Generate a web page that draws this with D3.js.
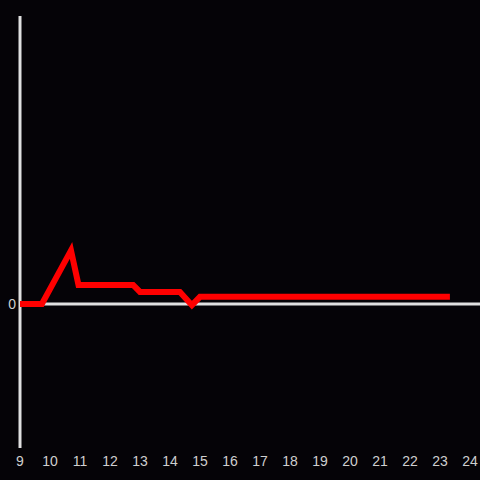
<!DOCTYPE html>
<html><head><meta charset="utf-8">
<script src="https://cdn.jsdelivr.net/npm/d3@7"></script>
<style>html,body{margin:0;padding:0;background:#050307;}svg{display:block;}</style>
</head><body>
<svg id="c" width="480" height="480"></svg>
<script>
const hours = [9, 9.73, 10.7, 10.95, 12.77, 13.0, 14.33, 14.73, 15.0, 23.33];
const values = [0, 0, 18.6, 6.6, 6.6, 4.2, 4.2, -0.4, 2.5, 2.5];
const xTicks = d3.range(9, 25);
const yTicks = [0];

const svg = d3.select("#c");
svg.append("rect").attr("width",480).attr("height",480).attr("fill","#050307");
const x = d3.scaleLinear().domain([9,24]).range([20,470]);
const y = d3.scaleLinear().domain([-50,100]).range([448,16]);

// y axis line
svg.append("line").attr("x1",x(9)).attr("x2",x(9)).attr("y1",16).attr("y2",448)
  .attr("stroke","#e0e0e0").attr("stroke-width",3);
// zero line
svg.append("line").attr("x1",x(9)).attr("x2",480).attr("y1",y(0)).attr("y2",y(0))
  .attr("stroke","#e0e0e0").attr("stroke-width",3);

svg.selectAll(".xt").data(xTicks).enter().append("text")
  .attr("x",d=>x(d)).attr("y",466).attr("text-anchor","middle")
  .attr("font-family","Liberation Sans, Arial, sans-serif").attr("font-size",14)
  .attr("fill","#cfcfcf").text(d=>d);
svg.selectAll(".yt").data(yTicks).enter().append("text")
  .attr("x",16).attr("y",d=>y(d)+5).attr("text-anchor","end")
  .attr("font-family","Liberation Sans, Arial, sans-serif").attr("font-size",14)
  .attr("fill","#cfcfcf").text(d=>d);

const line = d3.line().x((d,i)=>x(hours[i])).y(d=>y(d));
svg.append("path").attr("d",line(values)).attr("fill","none")
  .attr("stroke","#ff0000").attr("stroke-width",6).attr("stroke-linejoin","miter");
</script>
</body></html>
